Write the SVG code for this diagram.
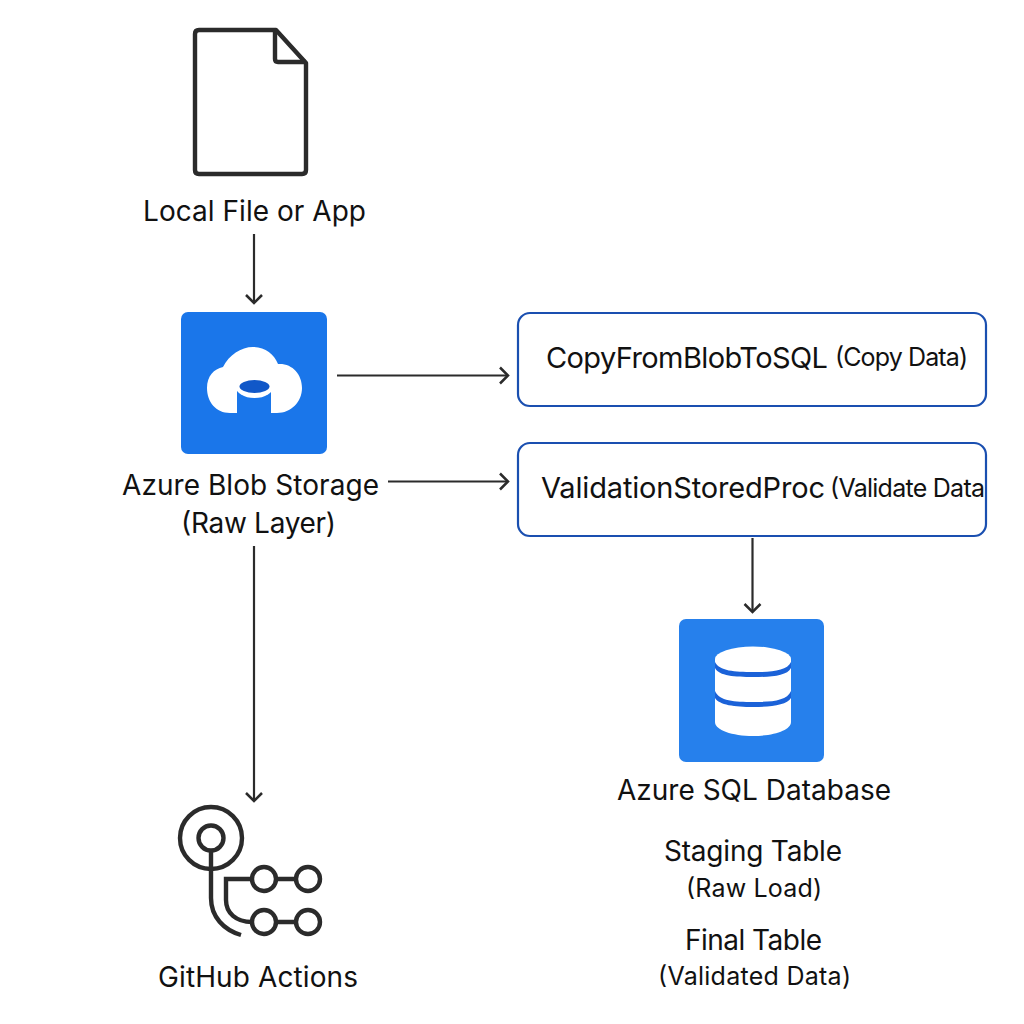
<svg xmlns="http://www.w3.org/2000/svg" width="1024" height="1024" viewBox="0 0 1024 1024">
<style>
text{font-family:"Inter","Liberation Sans",sans-serif;fill:#111}
.l{font-size:28px}.s{font-size:25px}
.c{fill:none;stroke:#2b2b2b;stroke-width:2.200}
.box{fill:#fff;stroke:#1a4fb0;stroke-width:2.200}
.ic{fill:none;stroke:#2b2b2b;stroke-width:4.400}
</style>
<defs><marker id="a" markerUnits="userSpaceOnUse" markerWidth="20" markerHeight="20" refX="16" refY="10" orient="auto"><path d="M8 2L16 10L8 18" fill="none" stroke="#2b2b2b" stroke-width="2.500"/></marker></defs>
<rect width="1024" height="1024" fill="#fff"/>
<g id="connectors">
<path class="c" marker-end="url(#a)" d="M254 234V303"/>
<path class="c" marker-end="url(#a)" d="M337 375.500H508"/>
<path class="c" marker-end="url(#a)" d="M388 481.500H508"/>
<path class="c" marker-end="url(#a)" d="M254 546V801"/>
<path class="c" marker-end="url(#a)" d="M752.500 538V612"/>
</g>
<g id="local-file">
<path d="M199 30H276L306 63V170Q306 174 302 174H199Q195 174 195 170V34Q195 30 199 30Z" fill="#fff" stroke="#2b2b2b" stroke-width="4.400" stroke-linejoin="round"/>
<path d="M275 30V59Q275 62 278 62H306" fill="none" stroke="#2b2b2b" stroke-width="4.400"/>
<text class="l" x="254.500" y="221" text-anchor="middle" textLength="223">Local File or App</text>
</g>
<g id="blob-storage">
<rect x="181" y="312" width="146" height="142" rx="7" fill="#1a76ea"/>
<path d="M237 413H230C216 413 207 402 207 388C207 376 214 369 223 367C229 355 241 347 253 347C265 347 274 354 278 364C292 363 302 374 302 388C302 402 291 413 277 413H271V388H237Z" fill="#fff"/>
<ellipse cx="254.500" cy="386" rx="19" ry="12" fill="#fff"/>
<ellipse cx="254.500" cy="386.500" rx="15" ry="6.500" fill="#1158c8"/>
<text class="l" x="250.500" y="495" text-anchor="middle" textLength="257">Azure Blob Storage</text>
<text class="l" x="258.500" y="533" text-anchor="middle" textLength="155">(Raw Layer)</text>
</g>
<g id="copy-activity">
<rect class="box" x="518" y="313" width="468" height="93" rx="12"/>
<text x="546" y="368" font-size="29" textLength="282">CopyFromBlobToSQL</text>
<text class="s" x="835" y="366" textLength="133">(Copy Data)</text>
</g>
<g id="validation-activity">
<rect class="box" x="518" y="443" width="468" height="93" rx="12"/>
<text x="541" y="498" font-size="29" textLength="284">ValidationStoredProc</text>
<text class="s" x="830" y="497" textLength="155">(Validate Data</text>
</g>
<g id="sql-database">
<rect x="679" y="619" width="145" height="143" rx="7" fill="#2680ec"/>
<path d="M715 659V722C715 730 732 736 753 736C774 736 791 730 791 722V659Z" fill="#fff"/>
<ellipse cx="753" cy="659" rx="38" ry="12.500" fill="#fff"/>
<path d="M715 662C719 671 735 672 753 672C771 672 787 671 791 662V668C787 676 771 677 753 677C735 677 719 676 715 668ZM715 691C719 701 735 702 753 702C771 702 787 701 791 691V698C787 705 771 707 753 707C735 707 719 705 715 698Z" fill="#1b62d8"/>
<text class="l" x="754" y="800" text-anchor="middle" textLength="274">Azure SQL Database</text>
<text class="l" x="753" y="861" text-anchor="middle" textLength="178">Staging Table</text>
<text class="s" x="754" y="897" text-anchor="middle" textLength="136">(Raw Load)</text>
<text class="l" x="753.500" y="950" text-anchor="middle" textLength="137">Final Table</text>
<text class="s" x="754.500" y="985" text-anchor="middle" textLength="193">(Validated Data)</text>
</g>
<g id="github-actions">
<circle class="ic" cx="211" cy="838" r="31"/>
<circle class="ic" cx="211" cy="838" r="12.500"/>
<path class="ic" d="M211 851V898C211 917 224 930 241 935"/>
<path class="ic" d="M252 879H226V900C226 913 236 922 252 922"/>
<path class="ic" d="M276 879H296M276 922H296"/>
<circle class="ic" cx="264" cy="879" r="12"/>
<circle class="ic" cx="308" cy="879" r="12"/>
<circle class="ic" cx="264" cy="922" r="12"/>
<circle class="ic" cx="308" cy="922" r="12"/>
<text class="l" x="258" y="987" text-anchor="middle" textLength="200">GitHub Actions</text>
</g>
</svg>
